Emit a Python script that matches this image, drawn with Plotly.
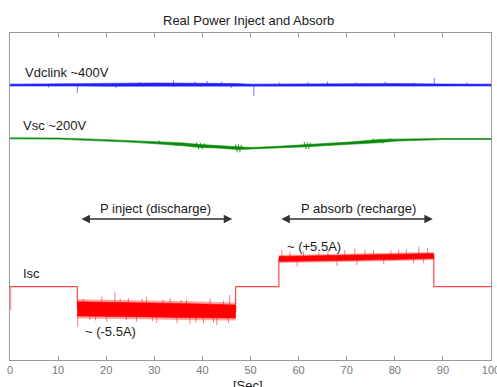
import numpy as np
import plotly.graph_objects as go

# ---------------- data (y in display units, bottom=0) ----------------
x_ticks = [0, 10, 20, 30, 40, 50, 60, 70, 80, 90, 100]

# Vdclink ~400V trace: envelope of the noisy line
vdc_t = [0, 14, 20, 30, 40, 47, 50, 60, 70, 80, 90, 100]
vdc_hi = [275.8, 276.0, 276.6, 277.0, 277.0, 276.4, 275.8, 276.2, 276.0, 276.4, 276.0, 275.8]
vdc_lo = [274.0, 274.0, 273.8, 273.6, 273.6, 273.8, 274.0, 274.0, 274.0, 273.8, 274.0, 274.1]
vdc_spike_t = [8.0, 14.0, 22.0, 27.0, 34.0, 38.5, 41.0, 44.0, 46.0, 50.7, 56.0, 62.0, 66.0, 72.0, 78.0,
               84.0, 88.2, 95.0]
vdc_spike_y = [272.5, 267.0, 272.0, 278.0, 279.5, 278.5, 279.0, 278.5, 272.0, 264.0, 277.5, 278.0,
               278.5, 277.5, 278.5, 277.5, 282.0, 277.5]

# Vsc ~200V trace: envelope of the noisy line
vsc_t = [0, 10, 18.7, 25, 29.1, 33.3, 36, 39.5, 43, 47.4, 50, 55, 61.7, 66, 70.7, 76.9, 80.5, 85.2, 90, 100]
vsc_hi = [222.2, 221.9, 220.6, 219.5, 218.7, 218.0, 217.1, 215.4, 214.4, 212.9, 212.5, 213.5, 215.3, 216.5,
          218.0, 220.6, 221.0, 221.3, 221.5, 221.5]
vsc_lo = [221.2, 220.9, 219.4, 217.9, 216.7, 215.4, 214.3, 212.6, 212.0, 210.5, 210.9, 211.9, 213.3, 214.5,
          215.4, 217.4, 219.0, 220.1, 220.5, 220.5]
vsc_spike_t = [31.0, 34.5, 38.8, 39.2, 39.6, 40.0, 40.4, 46.9, 47.2, 47.5, 47.8, 48.1,
               61.2, 61.5, 61.8, 62.1, 62.4, 73.0, 75.5, 77.5, 79.0]
vsc_spike_y = [219.5, 214.0, 217.5, 210.5, 217.0, 210.8, 216.5, 215.5, 207.5, 215.8, 207.8, 215.0,
               218.0, 210.8, 217.8, 211.0, 217.3, 219.0, 221.5, 216.5, 221.8]

# Isc trace: step levels (0 A, ~-5.5 A, 0 A, ~+5.5 A, 0 A)
isc_t = [0, 14.0, 14.0, 46.9, 46.9, 55.9, 55.9, 88.1, 88.1, 100]
isc_y = [73.3, 73.3, 51.0, 48.5, 73.3, 73.3, 101.5, 104.0, 73.3, 73.3]

# noisy band while injecting (discharge)
inj_t = [14.0, 20, 25, 30, 35, 40, 44, 46.9]
inj_hi = [58.3, 58.0, 57.5, 57.0, 56.5, 56.0, 55.5, 55.0]
inj_lo = [44.0, 43.5, 43.5, 43.0, 42.5, 42.0, 42.0, 42.0]

# noisy band while absorbing (recharge)
abs_t = [55.9, 62, 68, 74, 80, 85, 88.1]
abs_hi = [103.5, 104.0, 104.5, 105.0, 105.5, 106.0, 106.5]
abs_lo = [98.5, 99.0, 99.5, 100.0, 100.5, 101.0, 101.5]

isc_spike_t = [0.15, 14.05, 15.3, 16.6, 17.8, 19.1, 20.1, 21.8, 22.9, 24.2, 24.6, 26.3, 27.5, 28.4, 29.6,
               30.5, 31.8, 33.3, 34.7, 35.6, 36.7, 37.4, 38.6, 40.2, 41.6, 42.3, 43.0, 44.4, 45.4, 45.7,
               56.5, 58.2, 59.7, 61.0, 64.2, 66.1, 68.0, 69.6, 71.7, 72.1, 73.8, 75.6, 77.7, 79.2, 80.8,
               82.4, 83.9, 85.0, 86.0, 86.8]
isc_spike_y = [50.0, 33.3, 61.0, 40.0, 39.5, 63.3, 38.3, 68.3, 61.5, 40.0, 62.0, 38.5, 61.0, 63.0, 39.0,
               37.3, 60.5, 61.7, 36.7, 60.0, 60.7, 36.0, 37.5, 36.7, 61.7, 37.0, 35.0, 59.5, 36.7, 65.0,
               110.0, 108.5, 93.3, 109.0, 108.3, 109.5, 94.0, 110.0, 111.7, 95.0, 110.5, 110.0, 96.0,
               109.5, 110.7, 111.0, 96.7, 113.3, 96.7, 111.7]

# ---------------- figure ----------------
FONT = "Liberation Sans, Arial, Helvetica, sans-serif"
fig = go.Figure()


def band(t, lo, hi, color, halo=None, halo_pad=0.0, edge=0.6):
    tt = list(t) + list(t)[::-1]
    if halo is not None:
        yy = [v + halo_pad for v in hi] + [v - halo_pad for v in lo][::-1]
        fig.add_trace(go.Scatter(x=tt, y=yy, mode="lines", fill="toself", fillcolor=halo,
                                 line=dict(width=0), hoverinfo="skip", showlegend=False))
    yy = list(hi) + list(lo)[::-1]
    fig.add_trace(go.Scatter(x=tt, y=yy, mode="lines", fill="toself", fillcolor=color,
                             line=dict(width=edge, color=color), hoverinfo="skip", showlegend=False))


def spikes(st, sy, base_t, base_y, color, width=1):
    xs, ys = [], []
    for t, y in zip(st, sy):
        b = float(np.interp(t, base_t, base_y))
        xs += [t, t, None]
        ys += [b, y, None]
    fig.add_trace(go.Scatter(x=xs, y=ys, mode="lines", line=dict(color=color, width=width),
                             hoverinfo="skip", showlegend=False))


# Vdclink (blue)
vdc_mid = [(a + b) / 2 for a, b in zip(vdc_hi, vdc_lo)]
spikes(vdc_spike_t, vdc_spike_y, vdc_t, vdc_mid, "rgba(60,60,255,0.7)")
band(vdc_t, vdc_lo, vdc_hi, "#2020ff", halo="rgba(80,80,255,0.3)", halo_pad=0.6, edge=0.4)

# Vsc (green)
vsc_mid = [(a + b) / 2 for a, b in zip(vsc_hi, vsc_lo)]
spikes(vsc_spike_t, vsc_spike_y, vsc_t, vsc_mid, "rgba(10,130,10,0.8)", width=1.1)
band(vsc_t, vsc_lo, vsc_hi, "#0a8a0a", halo="rgba(20,150,20,0.3)", halo_pad=0.6, edge=0.4)

# Isc (red)
fig.add_trace(go.Scatter(x=isc_t, y=isc_y, mode="lines", line=dict(color="rgba(255,40,40,0.85)", width=1.2),
                         hoverinfo="skip", showlegend=False))
spikes(isc_spike_t, isc_spike_y, isc_t, isc_y, "rgba(255,70,70,0.7)")
band(inj_t, inj_lo, inj_hi, "#ff0000", halo="rgba(255,0,0,0.35)", halo_pad=2.5)
band(abs_t, abs_lo, abs_hi, "#ff0000", halo="rgba(255,0,0,0.35)", halo_pad=1.5)

TXT = dict(family=FONT, size=13, color="#1a1a1a")
ann = [
    dict(x=2.7, y=288, text="Vdclink ~400V", xanchor="left"),
    dict(x=2.3, y=235, text="Vsc ~200V", xanchor="left"),
    dict(x=30.25, y=152, text="P inject (discharge)", xanchor="center"),
    dict(x=72.35, y=152, text="P absorb (recharge)", xanchor="center"),
    dict(x=57.2, y=113.5, text="~ (+5.5A)", xanchor="left"),
    dict(x=2.3, y=87, text="Isc", xanchor="left"),
    dict(x=15.2, y=28.5, text="~ (-5.5A)", xanchor="left"),
]
for a in ann:
    fig.add_annotation(x=a["x"], y=a["y"], text=a["text"], xanchor=a["xanchor"], yanchor="middle",
                       showarrow=False, font=TXT, xref="x", yref="y")

# double-headed arrows
for x0, x1 in [(14.55, 46.2), (56.1, 87.9)]:
    fig.add_annotation(x=x1, y=141, ax=x0, ay=141, xref="x", yref="y", axref="x", ayref="y",
                       text="", showarrow=True, arrowhead=2, startarrowhead=2, arrowside="end+start",
                       arrowsize=1.3, startarrowsize=1.3, arrowwidth=1.3, arrowcolor="#333333")

fig.add_annotation(x=0.495, y=1.0367, xref="paper", yref="paper", text="Real Power Inject and Absorb",
                   showarrow=False, font=TXT, xanchor="center", yanchor="middle")
fig.add_annotation(x=0.495, y=-0.0765, xref="paper", yref="paper", text="[Sec]",
                   showarrow=False, font=TXT, xanchor="center", yanchor="middle")

fig.update_layout(
    width=497, height=387,
    margin=dict(l=10, r=6, t=33, b=27, autoexpand=False),
    paper_bgcolor="white", plot_bgcolor="white",
    showlegend=False,
    xaxis=dict(range=[0, 100], tickvals=x_ticks, ticktext=[str(v) for v in x_ticks],
               ticks="inside", ticklen=4, tickcolor="#9a9a9a", tickwidth=1,
               showline=True, linecolor="#9a9a9a", linewidth=1, mirror="ticks",
               showgrid=False, zeroline=False, ticklabeloverflow="allow", automargin=False,
               tickfont=dict(family=FONT, size=11, color="#777777")),
    yaxis=dict(range=[0, 327], showticklabels=False, ticks="", showline=True, linecolor="#9a9a9a",
               linewidth=1, mirror=True, showgrid=False, zeroline=False, automargin=False),
)

fig.write_html("out.html", config={"displayModeBar": False},
               post_script="document.body.style.margin='0';document.body.style.overflow='hidden';")
